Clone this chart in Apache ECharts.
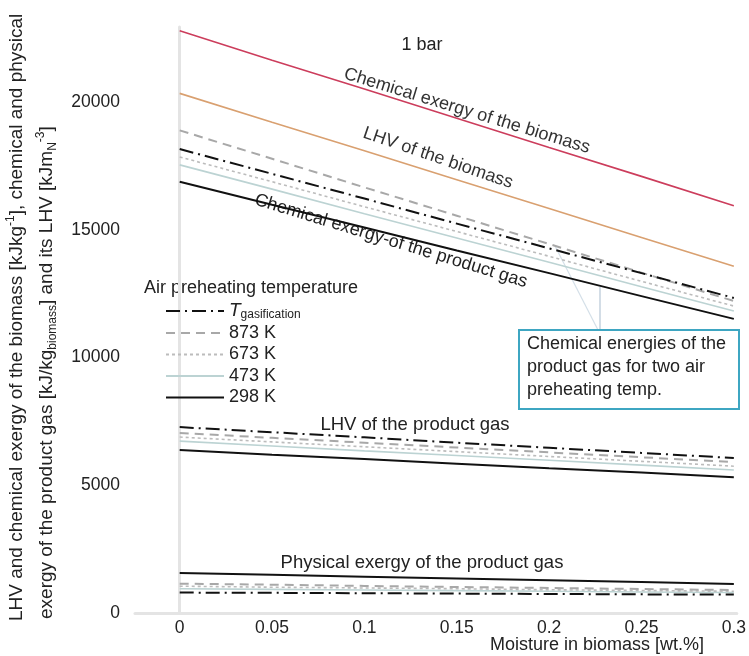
<!DOCTYPE html>
<html>
<head>
<meta charset="utf-8">
<script src="https://cdn.jsdelivr.net/npm/echarts@6/dist/echarts.min.js"></script>
<style>html,body{margin:0;padding:0;background:#fff}#c{width:749px;height:656px}</style>
</head>
<body>
<div id="c"></div>
<script>
// ---- data ----
const moisture = [0, 0.05, 0.1, 0.15, 0.2, 0.25, 0.3];
const xTickValues = [0, 0.05, 0.1, 0.15, 0.2, 0.25, 0.3];
const yTickValues = [0, 5000, 10000, 15000, 20000];
const legendNames = ['Tgasification', '873 K', '673 K', '473 K', '298 K'];

const chemExergyBiomass = [22800, 21650, 20520, 19380, 18230, 17100, 15950];
const lhvBiomass = [20350, 19220, 18100, 16970, 15840, 14710, 13580];

const chemGasTgas = [18170, 17200, 16230, 15250, 14280, 13310, 12340];
const chemGas873 = [18900, 17790, 16670, 15560, 14450, 13330, 12220];
const chemGas673 = [17860, 16890, 15910, 14940, 13970, 12990, 12020];
const chemGas473 = [17550, 16600, 15640, 14690, 13740, 12780, 11830];
const chemGas298 = [16890, 15990, 15100, 14200, 13310, 12410, 11520];

const lhvGasTgas = [7280, 7080, 6880, 6670, 6470, 6270, 6070];
const lhvGas873 = [7050, 6860, 6670, 6480, 6290, 6100, 5910];
const lhvGas673 = [6890, 6700, 6510, 6320, 6130, 5940, 5750];
const lhvGas473 = [6730, 6540, 6350, 6170, 5980, 5790, 5600];
const lhvGas298 = [6380, 6200, 6030, 5850, 5670, 5500, 5320];

const physGasTgas = [800, 790, 775, 760, 745, 730, 720];
const physGas873 = [1150, 1110, 1060, 1020, 980, 940, 900];
const physGas673 = [1050, 1010, 980, 950, 910, 880, 850];
const physGas473 = [950, 925, 900, 875, 850, 825, 800];
const physGas298 = [1565, 1495, 1420, 1350, 1280, 1210, 1135];

// ---- styles ----
const styleByName = {
  'Tgasification': {color: '#111', width: 2, type: [14, 5, 2, 5]},
  '873 K': {color: '#a8a8a8', width: 2, type: [9, 6]},
  '673 K': {color: '#bcbcbc', width: 1.6, type: [3, 3]},
  '473 K': {color: '#bcd3d3', width: 1.6, type: 'solid'},
  '298 K': {color: '#111', width: 2, type: 'solid'}
};
const groups = {
  'Tgasification': [chemGasTgas, lhvGasTgas, physGasTgas],
  '873 K': [chemGas873, lhvGas873, physGas873],
  '673 K': [chemGas673, lhvGas673, physGas673],
  '473 K': [chemGas473, lhvGas473, physGas473],
  '298 K': [chemGas298, lhvGas298, physGas298]
};
function pts(arr) { return moisture.map((x, i) => [x, arr[i]]); }

const series = [
  {type: 'line', name: 'chemBiomass', data: pts(chemExergyBiomass), showSymbol: false, symbol: 'none', silent: true,
   lineStyle: {color: '#cc3d5c', width: 1.6}, z: 3},
  {type: 'line', name: 'lhvBiomass', data: pts(lhvBiomass), showSymbol: false, symbol: 'none', silent: true,
   lineStyle: {color: '#d9a070', width: 1.6}, z: 3}
];
['473 K', '673 K', '873 K', 'Tgasification', '298 K'].forEach(n => {
  groups[n].forEach(arr => {
    series.push({type: 'line', name: n, data: pts(arr), showSymbol: false, symbol: 'none',
      lineStyle: Object.assign({}, styleByName[n]), itemStyle: {color: styleByName[n].color}, z: 4});
  });
});

const txt = '#222';
const F = 'Liberation Sans, Arial, sans-serif';
const chart = echarts.init(document.getElementById('c'));
chart.setOption({
  animation: false,
  backgroundColor: '#fff',
  grid: {left: 135, right: 9, top: 27, bottom: 43, containLabel: false},
  xAxis: {
    type: 'value', min: -0.0242, max: 0.3016,
    axisLine: {show: true, lineStyle: {color: '#e4e4e4', width: 3}},
    axisTick: {show: false},
    splitLine: {show: false},
    axisLabel: {customValues: xTickValues, color: txt, fontSize: 17.5, fontFamily: F, margin: 6,
      formatter: v => String(Math.round(v * 100) / 100)}
  },
  yAxis: {
    type: 'value', min: 0, max: 22950,
    axisLine: {show: true, lineStyle: {color: '#e4e4e4', width: 3}},
    axisTick: {show: false},
    splitLine: {show: false},
    axisLabel: {customValues: yTickValues, color: txt, fontSize: 17.5, fontFamily: F, margin: 15,
      formatter: v => String(v)}
  },
  legend: {
    data: legendNames, orient: 'vertical', left: 160, top: 296,
    itemWidth: 58, itemHeight: 14, itemGap: 2.5,
    itemStyle: {opacity: 0, borderWidth: 0},
    textStyle: {color: txt, fontSize: 18, fontFamily: F, lineHeight: 19,
      rich: {i: {fontStyle: 'italic', fontSize: 19, color: txt, fontFamily: F, lineHeight: 19},
             s: {fontSize: 12, color: txt, fontFamily: F, padding: [8, 0, 0, 0], lineHeight: 12}}},
    formatter: n => n === 'Tgasification' ? '{i|T}{s|gasification}' : n
  },
  series: series,
  graphic: [
    {type: 'text', x: 17, y: 621, rotation: Math.PI / 2,
     style: {text: 'LHV and chemical exergy of the biomass [kJkg{sup|-1}], chemical and physical',
       fill: txt, font: '19px ' + F, align: 'left', verticalAlign: 'middle',
       rich: {sup: {fontSize: 12, fill: txt, padding: [0, 0, 12, 0]}}}},
    {type: 'text', x: 47, y: 619, rotation: Math.PI / 2,
     style: {text: 'exergy of the product gas [kJ/kg{sub|biomass}] and its LHV [kJm{sub|N}{sup|-3}]',
       fill: txt, font: '19px ' + F, align: 'left', verticalAlign: 'middle',
       rich: {sup: {fontSize: 12, fill: txt, padding: [0, 0, 12, 0]},
              sub: {fontSize: 12, fill: txt, padding: [12, 0, 0, 0]}}}},
    {type: 'text', x: 422, y: 45, style: {text: '1 bar', fill: txt, font: '18px ' + F, align: 'center', verticalAlign: 'middle'}},
    {type: 'text', x: 467, y: 111, rotation: -17 * Math.PI / 180,
     style: {text: 'Chemical exergy of the biomass', fill: '#333', font: '18px ' + F, align: 'center', verticalAlign: 'middle'}},
    {type: 'text', x: 438, y: 158, rotation: -19 * Math.PI / 180,
     style: {text: 'LHV of the biomass', fill: '#333', font: '18px ' + F, align: 'center', verticalAlign: 'middle'}},
    {type: 'text', x: 391, y: 241, rotation: -17 * Math.PI / 180,
     style: {text: 'Chemical exergy-of the product gas', fill: '#222', font: '18px ' + F, align: 'center', verticalAlign: 'middle'}},
    {type: 'text', x: 415, y: 425, style: {text: 'LHV of the product gas', fill: txt, font: '18.5px ' + F, align: 'center', verticalAlign: 'middle'}},
    {type: 'text', x: 422, y: 563, style: {text: 'Physical exergy of the product gas', fill: txt, font: '18.5px ' + F, align: 'center', verticalAlign: 'middle'}},
    {type: 'text', x: 144, y: 288, style: {text: 'Air preheating temperature', fill: txt, font: '18px ' + F, align: 'left', verticalAlign: 'middle'}},
    {type: 'text', x: 597, y: 645, style: {text: 'Moisture in biomass [wt.%]', fill: txt, font: '18px ' + F, align: 'center', verticalAlign: 'middle'}},
    {type: 'line', shape: {x1: 600, y1: 330, x2: 600, y2: 287}, style: {stroke: '#c4d2de', lineWidth: 1.5}},
    {type: 'line', shape: {x1: 598, y1: 330, x2: 555, y2: 246}, style: {stroke: '#d4dfe8', lineWidth: 1.2}},
    {type: 'rect', shape: {x: 519, y: 330, width: 220, height: 79},
     style: {fill: '#fff', stroke: '#3ea6c2', lineWidth: 2}},
    {type: 'text', x: 527, y: 333,
     style: {text: 'Chemical energies of the\nproduct gas for two air\npreheating temp.', fill: txt,
       font: '18px ' + F, lineHeight: 23, align: 'left', verticalAlign: 'top'}}
  ]
});
</script>
</body>
</html>
